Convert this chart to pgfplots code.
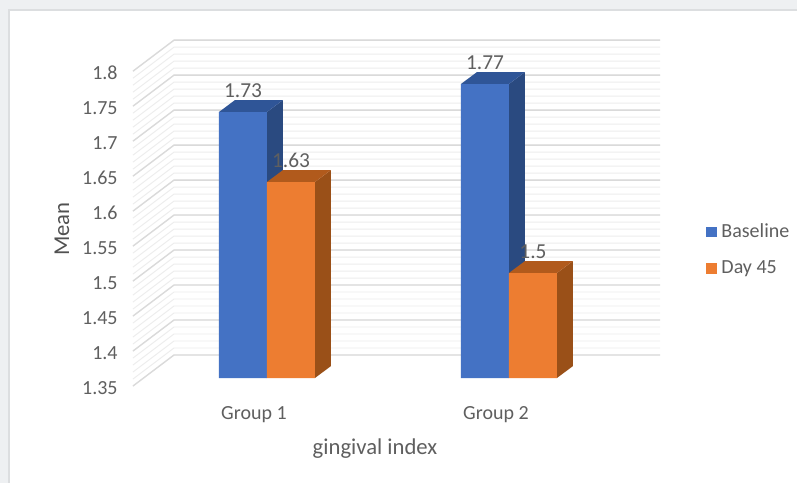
\documentclass[border=0pt]{standalone}
\usepackage{fontspec}
\setmainfont{Carlito}
\usepackage{pgfplots}
\usepackage{pgfplotstable}
\pgfplotsset{compat=1.18}

\definecolor{pagegray}{HTML}{EEF0F2}
\definecolor{panelline}{HTML}{DCDEE0}
\definecolor{txt}{HTML}{5F5F5F}
\definecolor{wallmajor}{HTML}{DADADA}
\definecolor{wallminor}{HTML}{EDEDED}
\definecolor{blfront}{HTML}{4472C4}
\definecolor{blside}{HTML}{2A4A80}
\definecolor{bltop}{HTML}{2F5597}
\definecolor{orfront}{HTML}{ED7D31}
\definecolor{orside}{HTML}{9A5018}
\definecolor{ortop}{HTML}{B15A1C}

% group index, mean
\pgfplotstableread{
x y
0 1.73
1 1.77
}\baseline
\pgfplotstableread{
x y
0 1.63
1 1.50
}\dayff

% 1 px of the reference is 0.75pt here
\def\barw{0.19835}  % bar width in x units
\def\dx{0.06612}    % bar depth
\def\dy{0.01714}
\def\wallx{-0.3843} % back wall left end
\def\wallr{1.624}   % back wall right end
\def\walldy{0.03286}
\def\frontx{-0.5537}
\def\frontdy{-0.01143}

\newcommand{\wallline}[3]{%
  \pgfmathsetmacro{\wv}{1.35+#1*0.01}%
  \pgfmathsetmacro{\wb}{\wv+\walldy}%
  \pgfmathsetmacro{\wf}{\wv+\frontdy}%
  \edef\temp{\noexpand\addplot[#2,line width=#3,forget plot] coordinates
    {(\frontx,\wf) (\wallx,\wb) (\wallr,\wb)};}%
  \temp}

% side and top face of a bar: left edge of the right side, value, colours
\newcommand{\barfaces}[4]{%
  \pgfmathsetmacro{\xa}{#1+\barw}%
  \pgfmathsetmacro{\xb}{\xa+\dx}%
  \pgfmathsetmacro{\xc}{#1+\dx}%
  \pgfmathsetmacro{\yb}{#2+\dy}%
  \pgfmathsetmacro{\ya}{1.35+\dy}%
  \edef\temp{\noexpand\addplot[fill=#3,draw=none,forget plot] coordinates
    {(\xa,1.35) (\xb,\ya) (\xb,\yb) (\xa,#2) (\xa,1.35)};
    \noexpand\addplot[fill=#4,draw=none,forget plot] coordinates
    {(#1,#2) (\xa,#2) (\xb,\yb) (\xc,\yb) (#1,#2)};}%
  \temp}

\pgfplotsset{swatch/.style={legend image code/.code={%
  \fill[##1] (0pt,-4.1pt) rectangle (8.25pt,4.1pt);}}}

\begin{document}
\begin{tikzpicture}
\fill[pagegray] (-99.75pt,-78.75pt) rectangle (498pt,283.5pt);
\fill[panelline] (-93.5pt,-78.75pt) rectangle (498pt,276.5pt);
\fill[white] (-92.5pt,-78.75pt) rectangle (498pt,275.5pt);
\begin{axis}[
    scale only axis,
    width=395.25pt,
    height=236.25pt,
    xmin=-0.5537, xmax=1.624,
    ymin=1.35, ymax=1.8,
    clip=false,
    axis line style={draw=none},
    major tick length=0pt,
    minor tick length=0pt,
    xtick={0,1},
    xticklabels={Group 1,Group 2},
    ytick={1.35,1.4,1.45,1.5,1.55,1.6,1.65,1.7,1.75,1.8},
    yticklabels={1.35,1.4,1.45,1.5,1.55,1.6,1.65,1.7,1.75,1.8},
    ticklabel style={text=txt},
    yticklabel style={anchor=east,xshift=-8pt,yshift=-7.25pt,font=\fontsize{15}{18}\selectfont},
    xticklabel style={anchor=center,xshift=-9.75pt,yshift=-27.5pt,font=\fontsize{15}{18}\selectfont},
    xlabel={gingival index},
    ylabel={Mean},
    xlabel style={at={(axis description cs:0.4592,-0.225)},anchor=center,
      text=txt,font=\fontsize{17}{20}\selectfont},
    ylabel style={at={(axis description cs:-0.1347,0.473)},anchor=center,
      text=txt!85!black,font=\fontsize{17}{20}\selectfont},
    legend style={at={(axis description cs:1.0864,0.498)},anchor=north west,
      draw=none,fill=none,row sep=11.75pt,inner sep=0pt,
      font=\fontsize{15}{18}\selectfont,text=txt,
      cells={anchor=west},
      /tikz/every odd column/.append style={column sep=1.5pt}},
    /pgf/number format/assume math mode=true,
    nodes near coords style={anchor=center,yshift=16pt,text=txt,
      font=\fontsize{16}{18}\selectfont},
]

% back wall and side wall
\pgfplotsforeachungrouped \n in {0,...,45}{\wallline{\n}{wallminor}{0.7pt}}
\pgfplotsforeachungrouped \n in {0,5,...,45}{\wallline{\n}{wallmajor}{1pt}}

\barfaces{-0.19835}{1.73}{blside}{bltop}
\barfaces{0.80165}{1.77}{blside}{bltop}
\addplot[ybar,bar width=36pt,bar shift=-18pt,fill=blfront,draw=none,swatch,
  nodes near coords,point meta=y,
  every node near coord/.append style={xshift=-18pt}] table {\baseline};
\addlegendentry{Baseline}

\barfaces{0}{1.63}{orside}{ortop}
\barfaces{1}{1.5}{orside}{ortop}
\addplot[ybar,bar width=36pt,bar shift=18pt,fill=orfront,draw=none,swatch,
  nodes near coords,point meta=y,
  every node near coord/.append style={xshift=18pt}] table {\dayff};
\addlegendentry{Day 45}

\end{axis}
\end{tikzpicture}
\end{document}
